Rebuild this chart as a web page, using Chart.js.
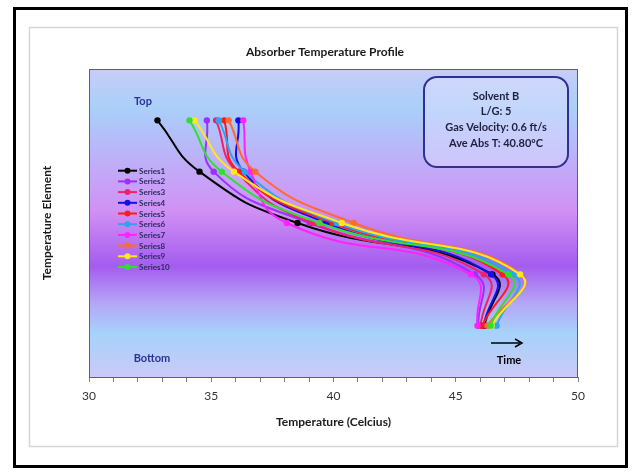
<!DOCTYPE html>
<html>
<head>
<meta charset="utf-8">
<script src="https://cdn.jsdelivr.net/npm/chart.js@4/dist/chart.umd.min.js"></script>
<style>
  body { margin: 0; background: #fff; }
  #wrap { position: relative; width: 638px; height: 475px; }
</style>
</head>
<body>
<div id="wrap"><canvas id="profileChart" width="638" height="475"></canvas></div>
<script>
// Element positions (5 = top of absorber, 1 = bottom)
const levels = [5, 4, 3, 2, 1];
const seriesNames = ["Series1", "Series2", "Series3", "Series4", "Series5",
                     "Series6", "Series7", "Series8", "Series9", "Series10"];
const seriesColors = ["#000000", "#9b30ff", "#f0206a", "#1010e8", "#ff1a1a",
                      "#2aa6f0", "#ff22ff", "#ff6a30", "#ffe81a", "#30e030"];
// Temperature at each element, top to bottom
const series1 = [32.80, 34.52, 38.53, 46.50, 46.18];
const series2 = [34.82, 35.10, 39.03, 45.78, 45.93];
const series3 = [35.20, 36.04, 39.12, 46.15, 46.02];
const series4 = [36.11, 36.32, 39.70, 46.44, 46.14];
const series5 = [35.53, 36.12, 39.97, 46.92, 46.09];
const series6 = [35.31, 36.37, 40.14, 47.37, 46.67];
const series7 = [36.31, 36.61, 38.09, 45.62, 45.89];
const series8 = [35.71, 36.80, 40.83, 47.66, 46.30];
const series9 = [34.32, 35.93, 40.34, 47.63, 46.47];
const series10 = [34.11, 35.43, 39.42, 47.15, 46.43];
const allSeries = [series1, series2, series3, series4, series5,
                   series6, series7, series8, series9, series10];
const xTicks = [30, 35, 40, 45, 50];

const boxLines = ["Solvent B", "L/G: 5", "Gas Velocity: 0.6 ft/s", "Ave Abs T: 40.80\u00baC"];
const FONT = "Lato, 'Open Sans', sans-serif";

const datasets = allSeries.map((vals, i) => ({
    label: seriesNames[i],
    data: vals.map((t, k) => ({ x: t, y: levels[k] })),
    borderColor: seriesColors[i],
    backgroundColor: seriesColors[i],
    borderWidth: 2,
    pointRadius: 3.2,
    pointBorderWidth: 0,
    showLine: true,
    tension: 0.5,
    order: 10 - i
}));

// Frame, plot background, annotations, legend
const decorations = {
    id: 'decorations',
    beforeDraw(chart) {
        const ctx = chart.ctx;
        const a = chart.chartArea;
        ctx.save();
        ctx.fillStyle = '#fff';
        ctx.fillRect(0, 0, chart.width, chart.height);
        ctx.strokeStyle = '#000';
        ctx.lineWidth = 3;
        ctx.strokeRect(14.5, 8.5, 612, 458);
        ctx.strokeStyle = '#d6d6d6';
        ctx.lineWidth = 1.5;
        ctx.strokeRect(29.5, 27.5, 588, 419);

        const g = ctx.createLinearGradient(0, a.top, 0, a.bottom);
        g.addColorStop(0.00, '#c6cdf7');
        g.addColorStop(0.13, '#a9cff9');
        g.addColorStop(0.33, '#c2a9f8');
        g.addColorStop(0.46, '#d091f4');
        g.addColorStop(0.64, '#a45cef');
        g.addColorStop(0.76, '#b4a6f6');
        g.addColorStop(0.86, '#a6d3fa');
        g.addColorStop(1.00, '#cbc9f8');
        ctx.fillStyle = g;
        ctx.fillRect(a.left, a.top, a.right - a.left, a.bottom - a.top);
        ctx.restore();
    },
    afterDraw(chart) {
        const ctx = chart.ctx;
        const a = chart.chartArea;
        ctx.save();
        ctx.strokeStyle = '#606060';
        ctx.lineWidth = 1;
        ctx.strokeRect(a.left + 0.5, a.top + 0.5, a.right - a.left - 1, a.bottom - a.top);

        // title and y title
        ctx.fillStyle = '#1a1a1a';
        ctx.textAlign = 'center';
        ctx.textBaseline = 'middle';
        ctx.font = "bold 12px " + FONT;
        ctx.fillText("Absorber Temperature Profile", 325, 52);
        ctx.save();
        ctx.translate(47, 223);
        ctx.rotate(-Math.PI / 2);
        ctx.fillText("Temperature Element", 0, 0);
        ctx.restore();

        // Top / Bottom
        ctx.fillStyle = '#2e3192';
        ctx.font = "bold 11px " + FONT;
        ctx.fillText("Top", 143, 101);
        ctx.fillText("Bottom", 152, 358);

        // time arrow
        ctx.fillStyle = '#000';
        ctx.fillText("Time", 509, 360);
        ctx.strokeStyle = '#000';
        ctx.lineWidth = 1.5;
        ctx.beginPath();
        ctx.moveTo(491, 343);
        ctx.lineTo(520, 343);
        ctx.stroke();
        ctx.beginPath();
        ctx.moveTo(515, 339);
        ctx.lineTo(522, 343);
        ctx.lineTo(515, 347);
        ctx.stroke();

        // info box
        const bx = 424, by = 77, bw = 144, bh = 90, r = 13;
        ctx.beginPath();
        ctx.moveTo(bx + r, by);
        ctx.arcTo(bx + bw, by, bx + bw, by + bh, r);
        ctx.arcTo(bx + bw, by + bh, bx, by + bh, r);
        ctx.arcTo(bx, by + bh, bx, by, r);
        ctx.arcTo(bx, by, bx + bw, by, r);
        ctx.closePath();
        ctx.fillStyle = 'rgba(225, 225, 255, 0.45)';
        ctx.fill();
        ctx.strokeStyle = '#2e3192';
        ctx.lineWidth = 2;
        ctx.stroke();
        ctx.fillStyle = '#1f1f3f';
        ctx.font = "bold 11px " + FONT;
        boxLines.forEach((s, i) => ctx.fillText(s, bx + bw / 2, 96 + i * 15.7));

        // legend
        ctx.textAlign = 'left';
        ctx.font = "bold 8px " + FONT;
        seriesNames.forEach((name, i) => {
            const y = 170.7 + i * 10.7;
            ctx.strokeStyle = seriesColors[i];
            ctx.lineWidth = 2;
            ctx.beginPath();
            ctx.moveTo(118, y);
            ctx.lineTo(137, y);
            ctx.stroke();
            ctx.fillStyle = seriesColors[i];
            ctx.beginPath();
            ctx.arc(127.5, y, 3, 0, Math.PI * 2);
            ctx.fill();
            ctx.fillStyle = '#2b2b60';
            ctx.fillText(name, 139, y + 0.5);
        });
        ctx.restore();
    }
};

new Chart(document.getElementById('profileChart'), {
    type: 'scatter',
    data: { datasets: datasets },
    options: {
        responsive: false,
        animation: false,
        layout: { padding: { left: 89, top: 69, right: 60, bottom: 0 } },
        plugins: {
            legend: { display: false },
            tooltip: { enabled: false }
        },
        scales: {
            x: {
                type: 'linear',
                min: 30,
                max: 50,
                afterFit(scale) { scale.height = 98; },
                grid: { drawOnChartArea: false, tickLength: 5, color: '#808080' },
                border: { display: true, color: '#808080' },
                ticks: {
                    stepSize: 1,
                    autoSkip: false,
                    maxRotation: 0,
                    padding: 7,
                    color: '#333',
                    font: { family: FONT, size: 12 },
                    callback: v => xTicks.includes(v) ? String(v) : ''
                },
                title: {
                    display: true,
                    text: 'Temperature (Celcius)',
                    color: '#1a1a1a',
                    font: { family: FONT, size: 12, weight: 'bold' },
                    padding: { top: 0, bottom: 46 }
                }
            },
            y: {
                display: false,
                min: 0,
                max: 6
            }
        }
    },
    plugins: [decorations]
});
</script>
</body>
</html>
